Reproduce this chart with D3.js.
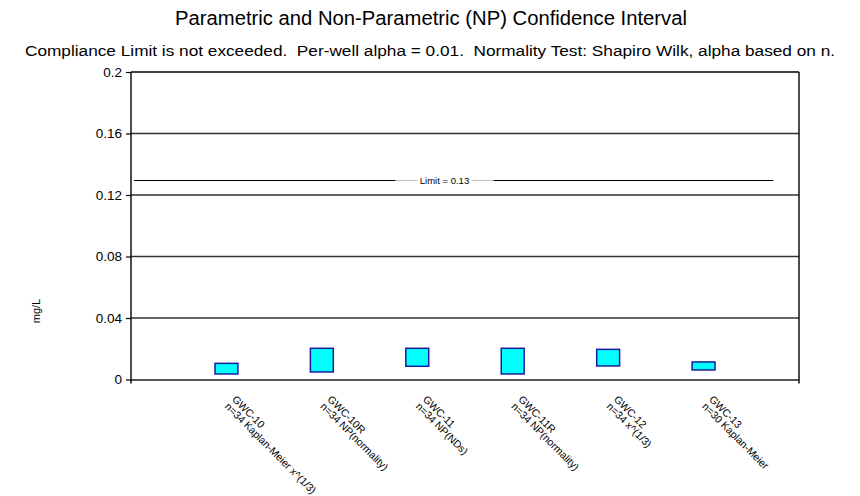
<!DOCTYPE html>
<html>
<head>
<meta charset="utf-8">
<script src="https://cdn.jsdelivr.net/npm/d3@7"></script>
<style>
  html, body { margin: 0; padding: 0; background: #fff; }
  svg { display: block; font-family: "Liberation Sans", Arial, sans-serif; }
</style>
</head>
<body>
<svg id="chart" width="860" height="496"></svg>
<script>
// ---- data ----
const wells = ["GWC-10", "GWC-10R", "GWC-11", "GWC-11R", "GWC-12", "GWC-13"];
const methods = ["n=34 Kaplan-Meier x^(1/3)", "n=34 NP(normality)", "n=34 NP(NDs)", "n=34 NP(normality)", "n=34 x^(1/3)", "n=30 Kaplan-Meier"];
const upper = [0.0105, 0.0203, 0.0203, 0.0203, 0.0196, 0.0114];
const lower = [0.0036, 0.0049, 0.0086, 0.0036, 0.0088, 0.0062];
const limitValue = 0.13;
const limitLabel = "Limit = 0.13";
const yTicks = [0, 0.04, 0.08, 0.12, 0.16, 0.2];
const yTickLabels = ["0", "0.04", "0.08", "0.12", "0.16", "0.2"];
const titleText = "Parametric and Non-Parametric (NP) Confidence Interval";
const subtitleText = "Compliance Limit is not exceeded.  Per-well alpha = 0.01.  Normality Test: Shapiro Wilk, alpha based on n.";
const yAxisTitle = "mg/L";

// ---- layout ----
const svg = d3.select("#chart");
const L = 131, R = 799, T = 72, B = 379.5;

const x = d3.scalePoint().domain(wells).range([L, R]).padding(1);
const y = d3.scaleLinear().domain([0, 0.2]).range([B, T]);
const step = x.step();
const barW = step * 0.24;

// titles
const title = svg.append("text")
  .attr("x", 431).attr("y", 25)
  .attr("text-anchor", "middle")
  .attr("font-size", 19.5)
  .attr("fill", "#000")
  .text(titleText);
title.attr("textLength", 512).attr("lengthAdjust", "spacingAndGlyphs");

const sub = svg.append("text")
  .attr("x", 430).attr("y", 56)
  .attr("text-anchor", "middle")
  .attr("font-size", 15.5)
  .attr("fill", "#000")
  .style("white-space", "pre")
  .attr("xml:space", "preserve")
  .text(subtitleText);
sub.attr("textLength", 810).attr("lengthAdjust", "spacingAndGlyphs");

// gridlines
svg.append("g").selectAll("line")
  .data(yTicks.filter(d => d > 0))
  .join("line")
  .attr("x1", L).attr("x2", R)
  .attr("y1", d => y(d)).attr("y2", d => y(d))
  .attr("stroke", d => d === 0.2 ? "#000" : "#333")
  .attr("stroke-width", 1.4);

// bottom axis line
svg.append("line")
  .attr("x1", L).attr("x2", R)
  .attr("y1", B + 0.5).attr("y2", B + 0.5)
  .attr("stroke", "#555").attr("stroke-width", 2);

// right border
svg.append("line")
  .attr("x1", R).attr("x2", R)
  .attr("y1", T).attr("y2", B + 4)
  .attr("stroke", "#000").attr("stroke-width", 1.4);

// left axis
const yAxis = d3.axisLeft(y)
  .tickValues(yTicks)
  .tickFormat((d, i) => yTickLabels[i])
  .tickSize(5)
  .tickSizeOuter(0);
const gy = svg.append("g")
  .attr("transform", `translate(${L},0)`)
  .call(yAxis);
gy.select(".domain").attr("stroke", "#000").attr("stroke-width", 1.4)
  .attr("d", `M0,${T}V${B + 4}`);
gy.selectAll(".tick line").attr("stroke", "#000").attr("stroke-width", 1.2);
gy.selectAll(".tick text")
  .attr("x", -9)
  .attr("font-size", 13.5)
  .attr("font-family", "Liberation Sans, Arial, sans-serif")
  .attr("fill", "#000");

// y axis title
svg.append("text")
  .attr("transform", `translate(40,311) rotate(-90)`)
  .attr("text-anchor", "middle")
  .attr("font-size", 11)
  .attr("fill", "#000")
  .text(yAxisTitle);

// limit line
const ly = Math.round(y(limitValue)) + 0.5;
const lx1 = L + 3, lx2 = x(wells[wells.length - 1]) + step * 0.73;
const labC = 444.5;
svg.append("line").attr("x1", lx1).attr("x2", labC - 49).attr("y1", ly).attr("y2", ly)
  .attr("stroke", "#000").attr("stroke-width", 1.2);
svg.append("line").attr("x1", labC + 49).attr("x2", lx2).attr("y1", ly).attr("y2", ly)
  .attr("stroke", "#000").attr("stroke-width", 1.2);
svg.append("line").attr("x1", labC - 49).attr("x2", labC + 49).attr("y1", ly).attr("y2", ly)
  .attr("stroke", "#888").attr("stroke-width", 1).attr("stroke-dasharray", "1,1");
svg.append("rect").attr("x", labC - 27).attr("y", ly - 6).attr("width", 54).attr("height", 12).attr("fill", "#fff");
svg.append("text")
  .attr("x", labC).attr("y", ly + 3.5)
  .attr("text-anchor", "middle")
  .attr("font-size", 9.5)
  .attr("fill", "#000")
  .text(limitLabel);

// bars (confidence intervals)
svg.append("g").selectAll("rect")
  .data(wells)
  .join("rect")
  .attr("x", (d) => x(d) - barW / 2)
  .attr("y", (d, i) => y(upper[i]))
  .attr("width", barW)
  .attr("height", (d, i) => y(lower[i]) - y(upper[i]))
  .attr("fill", "#00FFFF")
  .attr("stroke", "#1a1aa0")
  .attr("stroke-width", 1.5);

// x labels
const xl = svg.append("g").selectAll("text")
  .data(wells)
  .join("text")
  .attr("transform", d => `translate(${x(d) + 5},400) rotate(45)`)
  .attr("font-size", 10.5)
  .attr("fill", "#000");
xl.append("tspan").attr("x", 0).attr("dy", 0).text(d => d);
xl.append("tspan").attr("x", 0).attr("dy", "0.95em").text((d, i) => methods[i]);
</script>
</body>
</html>
